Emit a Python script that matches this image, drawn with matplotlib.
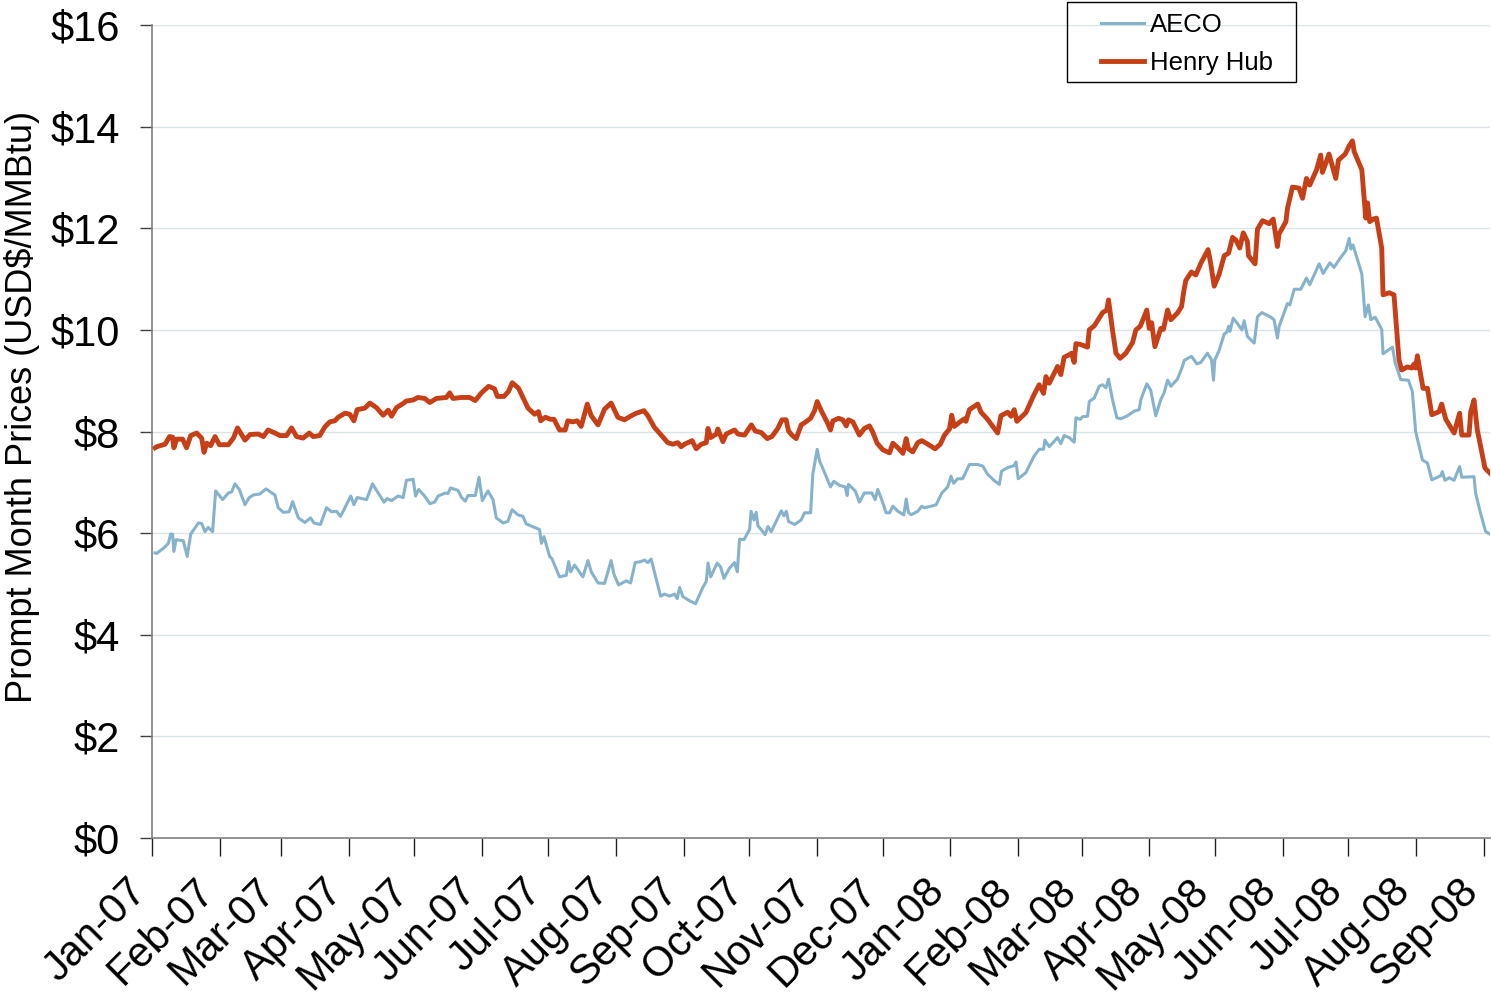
import numpy as np
import matplotlib
matplotlib.use('Agg')
import matplotlib.pyplot as plt
import matplotlib.dates as mdates
import matplotlib.transforms as mtransforms
from matplotlib.patches import Rectangle
from matplotlib.ticker import FuncFormatter
from datetime import datetime

plt.rcParams['font.family'] = ['Liberation Sans', 'DejaVu Sans']

# days since 2007-01-01, prompt month prices in USD$/MMBtu
hh_days = [1.4, 2.1, 6, 8, 9.4, 10, 11.3, 14, 15.8, 17.7, 20.4, 22.7, 23.8, 25, 26.8, 28.8, 30.8, 34.9, 37.2, 39.1,
           42.5, 44.8, 48.6, 50.9, 53.1, 56.2, 58.5, 61.5, 63.8, 66.1, 69.1, 71.9, 73.7, 76.7, 79, 81.3, 83.6, 85.1,
           88.2, 90.4, 92.3, 93.8, 97.3, 99.6, 102.6, 105.7, 108, 109.5, 111.8, 114.8, 116.3, 119.4, 121.6, 124.7,
           127, 130, 134.6, 136.1, 137.6, 141.4, 145.2, 147.8, 150.6, 153.9, 156.6, 157.9, 160.9, 163, 164.7, 167.6,
           169.6, 171.9, 174.9, 176.7, 177.7, 179.8, 182.2, 183.8, 186.3, 188.9, 190.1, 192.4, 194.4, 196.2, 199,
           200.8, 203.9, 206.9, 209.9, 213, 216, 219.1, 221.4, 224.9, 226.7, 229.7, 232.8, 235.8, 238.1, 240.4,
           241.9, 243.5, 246.9, 248.8, 251.1, 253.4, 254.2, 255.4, 258, 258.7, 261, 262.5, 266.3, 267.9, 270.9, 274,
           275.8, 278.5, 281.3, 283.4, 286.1, 288, 289.9, 291, 292.5, 294.5, 296.8, 298.6, 301.1, 302.9, 304.1,
           306.2, 308.7, 310.2, 311.3, 313.9, 315.8, 317.4, 318.4, 320.4, 321.9, 323.4, 325.7, 328, 329.5, 331.5,
           334.1, 337.2, 338.7, 341, 343.3, 344.8, 345.8, 347.8, 350.1, 351.9, 354.7, 358, 360.4, 362.3, 364.6,
           365.6, 366.8, 369.1, 371.4, 372.1, 373.7, 377.5, 379, 382, 386.6, 388.1, 391.2, 392.7, 394.2, 395.4,
           399.5, 403.3, 405.6, 407.6, 408.7, 410.2, 414, 415.5, 417, 419.3, 420.4, 421.6, 422.4, 424.7, 427.7,
           428.5, 430.8, 433, 434.6, 436.5, 437.3, 439.1, 440.7, 442.6, 445.2, 448.3, 449.8, 451.8, 454.8, 455.9,
           457, 458.5, 461.2, 462.4, 464.3, 465.8, 468.8, 470.7, 471.6, 472.6, 475.2, 477.2, 479.5, 482.8, 484,
           485.6, 487.9, 490.2, 492.2, 494, 495.5, 497.3, 498.9, 500.8, 501.3, 504.3, 505.4, 507.7, 510.7, 512.6,
           514.5, 515.3, 518.4, 519.1, 521.4, 524.4, 526, 527.8, 529.3, 532.4, 534.3, 535.1, 538.1, 541.2, 542.4,
           545.5, 547.3, 548.8, 549.6, 553.1, 554.9, 555.7, 556.7, 558.3, 559.8, 562.2, 562.8, 565.6, 567.8, 570.1,
           571.3, 573.9, 575.9, 577, 577.7, 578.5, 581.1, 583.1, 585.1, 588.4, 589.6, 591.5, 595.3, 597.8, 598.8,
           602.1, 602.9, 604.4, 605.9, 609.4, 611.7]
hh_vals = [7.68, 7.70, 7.75, 7.90, 7.89, 7.68, 7.85, 7.85, 7.68, 7.92, 7.97, 7.87, 7.59, 7.77, 7.72, 7.90, 7.74, 7.74,
           7.87, 8.07, 7.83, 7.94, 7.95, 7.90, 8.03, 7.97, 7.92, 7.92, 8.07, 7.90, 7.87, 7.97, 7.90, 7.92, 8.09, 8.19,
           8.21, 8.28, 8.36, 8.34, 8.21, 8.43, 8.46, 8.56, 8.47, 8.32, 8.42, 8.30, 8.47, 8.55, 8.60, 8.62, 8.67, 8.65,
           8.57, 8.65, 8.67, 8.76, 8.65, 8.67, 8.67, 8.61, 8.76, 8.89, 8.84, 8.69, 8.69, 8.79, 8.96, 8.85, 8.67, 8.46,
           8.34, 8.39, 8.21, 8.28, 8.24, 8.24, 8.03, 8.03, 8.21, 8.19, 8.21, 8.10, 8.54, 8.31, 8.13, 8.44, 8.56, 8.28,
           8.23, 8.31, 8.36, 8.41, 8.31, 8.08, 7.93, 7.78, 7.75, 7.78, 7.70, 7.75, 7.82, 7.66, 7.75, 7.78, 8.06, 7.88,
           7.95, 8.05, 7.80, 7.95, 8.03, 7.95, 7.93, 8.13, 8.01, 7.98, 7.86, 7.90, 8.06, 8.23, 8.23, 8.01, 7.93, 7.86,
           8.13, 8.18, 8.26, 8.41, 8.59, 8.39, 8.18, 8.03, 8.21, 8.26, 8.23, 8.11, 8.23, 8.19, 8.06, 7.93, 8.06, 8.11,
           7.99, 7.77, 7.64, 7.58, 7.77, 7.68, 7.57, 7.86, 7.66, 7.60, 7.78, 7.82, 7.75, 7.66, 7.75, 7.93, 8.05, 8.32,
           8.10, 8.18, 8.25, 8.20, 8.43, 8.54, 8.38, 8.24, 7.97, 8.31, 8.38, 8.30, 8.43, 8.20, 8.37, 8.73, 8.92, 8.75,
           9.08, 8.95, 9.28, 9.12, 9.46, 9.51, 9.54, 9.36, 9.73, 9.71, 9.66, 10.00, 10.08, 10.23, 10.34, 10.39, 10.59,
           10.00, 9.54, 9.44, 9.54, 9.75, 10.00, 10.07, 10.39, 10.03, 10.14, 9.67, 10.03, 10.01, 10.39, 10.20, 10.33,
           10.46, 10.73, 10.97, 11.14, 11.08, 11.31, 11.58, 11.31, 10.86, 11.10, 11.46, 11.51, 11.82, 11.77, 11.61,
           11.91, 11.74, 11.46, 11.30, 11.98, 12.15, 12.09, 12.18, 11.64, 11.89, 12.13, 12.39, 12.81, 12.79, 12.59,
           12.98, 12.85, 13.15, 13.44, 13.10, 13.46, 12.98, 13.34, 13.46, 13.62, 13.72, 13.51, 13.15, 12.20, 12.50,
           12.13, 12.18, 12.20, 11.61, 10.69, 10.73, 10.69, 9.41, 9.21, 9.27, 9.25, 9.33, 9.25, 9.49, 8.85, 8.85,
           8.33, 8.39, 8.54, 8.24, 7.97, 8.36, 7.93, 7.93, 8.39, 8.62, 8.03, 7.28, 7.18]

aeco_days = [1.4, 2.1, 5.2, 7.5, 8.5, 9.4, 10, 11, 14.3, 16.1, 17.7, 21.2, 22.7, 24.2, 25.7, 27.7, 29.1, 32.3, 34.9, 36.4,
             37.9, 39.9, 42.5, 44.5, 46.3, 49.3, 52.1, 56.2, 57.7, 60, 62.7, 64.3, 66.9, 69.9, 72.5, 74, 77, 79.8,
             82.1, 84.4, 86.2, 88.2, 90.9, 92.3, 93.8, 98.1, 100.8, 103.4, 106.1, 107.5, 109.5, 112.5, 114.8, 116.3,
             119.4, 120.5, 121.9, 124.4, 127, 129.2, 130.8, 134.1, 135.3, 136.5, 139.9, 141.4, 143.2, 144.5, 147.8,
             149.5, 151, 153.6, 155.9, 157.4, 160.5, 162.7, 164.6, 167.3, 169.6, 171.1, 177.2, 178, 179.2, 181.8,
             182.8, 186.3, 189.4, 190.5, 191.4, 193.2, 197, 199.3, 200.8, 203.9, 206.9, 209.9, 211.2, 213.3, 216.8,
             218.8, 220.9, 223.4, 225.2, 226.7, 228.2, 232.5, 234.3, 236.6, 238.9, 240.1, 241.2, 242.7, 245.7, 248.5,
             251.7, 253.4, 254.2, 255.4, 258.4, 259.9, 261.5, 264, 266.3, 267.6, 268.6, 270.6, 273.2, 273.9, 275.2,
             276.2, 277, 280.3, 281.6, 283.1, 287.7, 288.9, 290, 291, 293.8, 296.8, 298.3, 301.1, 302.1, 304.1, 305.2,
             307.5, 310.2, 311.7, 314.3, 316.9, 317.8, 318.4, 321.5, 323.4, 325.7, 329.1, 330.6, 331.8, 333.6, 335.6,
             337.2, 338.7, 341, 343.7, 344.8, 345.8, 347, 350.1, 351.9, 353.1, 356.2, 358.5, 361.1, 363.8, 365.3,
             366.5, 368.3, 370.6, 373.7, 377.5, 379.8, 382, 385.1, 387.4, 388.4, 391.2, 394.2, 395, 396, 399.5, 403.3,
             405.6, 407.6, 408.2, 410.2, 414, 415.5, 417, 419.3, 421.6, 422.4, 424.4, 425.4, 427.7, 428.5, 430.8, 433,
             434.6, 436.1, 437.3, 439.1, 441.1, 442.9, 446, 449, 451.3, 452.1, 454.8, 456.6, 458.9, 461.2, 462.7,
             464.3, 465.8, 468.8, 471.1, 471.9, 475.2, 477.7, 479.5, 482.5, 484.4, 485.3, 485.9, 487.9, 490.2, 491.3,
             492.2, 492.8, 494.3, 496.3, 498.3, 499.3, 500.8, 503.9, 505.4, 507.4, 511.5, 513, 514.5, 515.3, 519.1,
             520.2, 522.2, 525.2, 527.8, 529.3, 533.6, 535.4, 538.5, 540.4, 542.7, 545.8, 547.3, 548.1, 549.1, 553.1,
             554.6, 556.1, 557.2, 559.2, 562.2, 562.8, 567.1, 568.3, 570.9, 574.4, 576.2, 577.7, 580.8, 583.1, 585.1,
             589.2, 589.9, 591.1, 593, 595.3, 597.8, 598.8, 604.4, 605.1, 607.4, 609.7, 611.7]
aeco_vals = [5.61, 5.60, 5.70, 5.80, 5.98, 5.98, 5.64, 5.87, 5.85, 5.54, 5.98, 6.20, 6.19, 6.03, 6.11, 6.03, 6.83, 6.66,
             6.79, 6.81, 6.97, 6.86, 6.56, 6.70, 6.75, 6.77, 6.87, 6.75, 6.50, 6.41, 6.42, 6.62, 6.30, 6.21, 6.30, 6.20,
             6.17, 6.50, 6.42, 6.43, 6.33, 6.50, 6.73, 6.56, 6.70, 6.66, 6.97, 6.79, 6.61, 6.68, 6.64, 6.73, 6.70, 7.04,
             7.06, 6.73, 6.86, 6.74, 6.58, 6.61, 6.73, 6.79, 6.78, 6.89, 6.84, 6.71, 6.63, 6.74, 6.74, 7.10, 6.64, 6.83,
             6.66, 6.30, 6.20, 6.23, 6.46, 6.36, 6.33, 6.18, 6.07, 5.80, 5.93, 5.54, 5.50, 5.14, 5.17, 5.44, 5.24, 5.37,
             5.14, 5.46, 5.24, 5.02, 5.01, 5.46, 5.19, 4.98, 5.06, 5.02, 5.42, 5.44, 5.47, 5.42, 5.49, 4.76, 4.80, 4.76,
             4.80, 4.71, 4.93, 4.75, 4.67, 4.61, 4.92, 5.05, 5.41, 5.14, 5.41, 5.34, 5.11, 5.31, 5.42, 5.24, 5.88, 5.87,
             6.07, 6.43, 6.26, 6.41, 6.15, 5.97, 6.13, 6.03, 6.44, 6.34, 6.43, 6.23, 6.17, 6.26, 6.40, 6.40, 7.16, 7.65,
             7.42, 7.19, 6.91, 7.02, 6.94, 6.91, 6.74, 6.96, 6.83, 6.61, 6.79, 6.79, 6.66, 6.86, 6.66, 6.40, 6.40, 6.53,
             6.43, 6.36, 6.67, 6.41, 6.36, 6.43, 6.53, 6.50, 6.53, 6.56, 6.79, 6.91, 7.12, 6.98, 7.07, 7.07, 7.35, 7.35,
             7.32, 7.16, 7.03, 6.96, 7.22, 7.29, 7.33, 7.40, 7.07, 7.19, 7.52, 7.65, 7.65, 7.83, 7.70, 7.88, 7.76, 7.92,
             7.88, 7.79, 8.27, 8.24, 8.29, 8.30, 8.59, 8.66, 8.89, 8.92, 8.86, 9.03, 8.63, 8.27, 8.25, 8.31, 8.40, 8.43,
             8.63, 8.94, 8.81, 8.31, 8.63, 8.76, 9.01, 8.89, 9.03, 9.28, 9.40, 9.48, 9.33, 9.36, 9.54, 9.41, 9.01, 9.41,
             9.60, 9.92, 9.95, 10.07, 9.97, 10.23, 10.12, 10.00, 10.18, 9.87, 9.74, 10.26, 10.34, 10.25, 10.20, 9.84,
             10.07, 10.52, 10.49, 10.80, 10.80, 11.02, 10.89, 11.30, 11.11, 11.32, 11.23, 11.38, 11.56, 11.80, 11.59,
             11.67, 11.10, 10.26, 10.49, 10.20, 10.25, 10.01, 9.53, 9.66, 9.36, 9.02, 9.01, 8.79, 8.00, 7.44, 7.38,
             7.05, 7.13, 7.21, 7.04, 7.09, 7.04, 7.31, 7.10, 7.11, 6.79, 6.39, 6.03, 5.98]

start = mdates.date2num(datetime(2007, 1, 1))
hh_x = start + np.array(hh_days)
aeco_x = start + np.array(aeco_days)

fig = plt.figure(figsize=(14.91, 10.02), dpi=100)
ax = fig.add_axes([152 / 1491, 164 / 1002, 1338 / 1491, 813 / 1002])

ax.plot(aeco_x, aeco_vals, color='#86B2CB', lw=2.2, label='AECO')
ax.plot(hh_x, hh_vals, color='#C63F16', lw=3.5, label='Henry Hub')

ax.set_ylim(0, 16)
ax.set_yticks(range(0, 17, 2))
ax.yaxis.set_major_formatter(FuncFormatter(lambda v, p: '\\$%d' % v))
ax.set_xlim(start, start + 611.7)
ax.xaxis.set_major_locator(mdates.MonthLocator())
ax.xaxis.set_major_formatter(mdates.DateFormatter('%b-%y'))

ax.grid(axis='y', color='#D8E4E6', lw=1)
ax.set_axisbelow(True)
for s in ['top', 'right']:
    ax.spines[s].set_visible(False)
for s in ['left', 'bottom']:
    ax.spines[s].set_color('#808080')
    ax.spines[s].set_linewidth(1.2)

ax.tick_params(axis='y', labelsize=30, length=9, width=1, color='#404040', pad=14)
ax.tick_params(axis='x', labelsize=30, length=13, width=1, color='#202020', pad=21)
fig.canvas.draw()
shift = mtransforms.ScaledTranslation(-12 / 100, 0, fig.dpi_scale_trans)
for lab in ax.get_xticklabels():
    lab.set_rotation(45)
    lab.set_ha('right')
    lab.set_va('center')
    lab.set_rotation_mode('anchor')
    lab.set_transform(lab.get_transform() + shift)

ax.set_ylabel('Prompt Month Prices (USD\\$/MMBtu)', fontsize=26)
ax.yaxis.set_label_coords(-0.084, 0.53)

# legend box drawn separately so the padding matches the original
fig.patches.append(Rectangle((1067 / 1491, 1 - 82 / 1002), 229 / 1491, 80 / 1002, transform=fig.transFigure,
                             fill=False, edgecolor='black', lw=1.0))
leg = ax.legend(loc='upper left', bbox_to_anchor=(1096 / 1491, 1 - 8 / 1002), bbox_transform=fig.transFigure,
                fontsize=18.5, frameon=False, borderaxespad=0, borderpad=0.2,
                handlelength=1.65, handletextpad=0.25, labelspacing=0.55)

fig.savefig('out.png', dpi=100)
